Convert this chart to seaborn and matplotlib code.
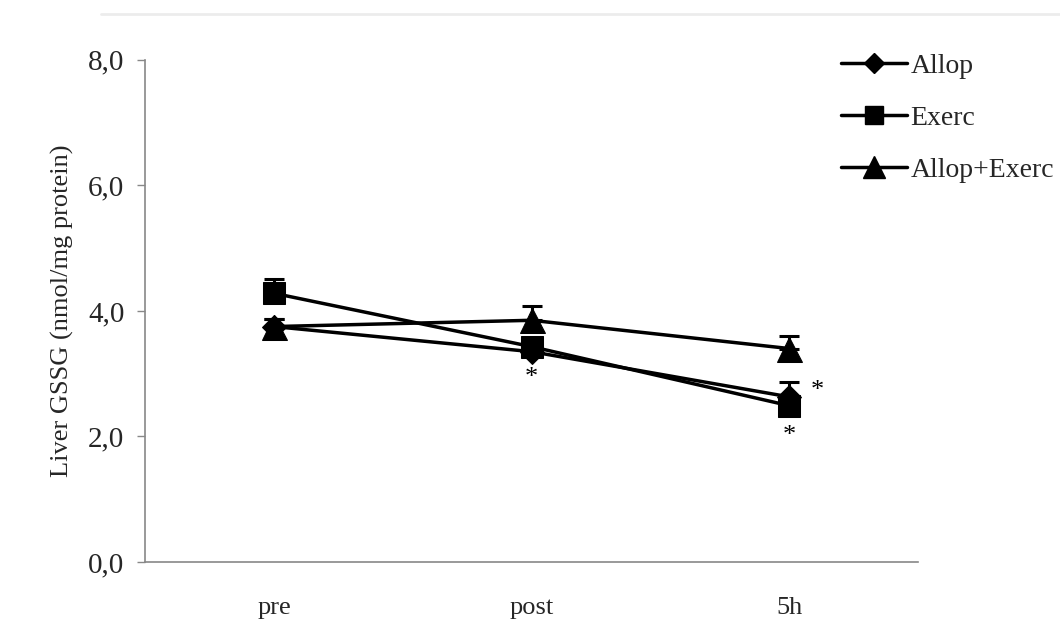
import pandas as pd
import matplotlib
matplotlib.use("Agg")
import matplotlib.pyplot as plt
from matplotlib.lines import Line2D
import seaborn as sns

# -----------------------------
# DATA
# -----------------------------
times = ["pre", "post", "5h"]
groups = ["Allop", "Exerc", "Allop+Exerc"]

allop = [3.75, 3.35, 2.63]
exerc = [4.28, 3.43, 2.49]
allop_exerc = [3.75, 3.85, 3.40]

allop_err = [0.12, 0.12, 0.24]
exerc_err = [0.23, 0.12, 0.10]
allop_exerc_err = [0.12, 0.23, 0.20]

yticks = [0, 2, 4, 6, 8]
ytick_labels = ["0,0", "2,0", "4,0", "6,0", "8,0"]

# significance marks
star_x = [1.0, 2.11, 2.0]
star_y = [2.93, 2.72, 2.0]

df = pd.DataFrame({
    "time": times * 3,
    "value": allop + exerc + allop_exerc,
    "err": allop_err + exerc_err + allop_exerc_err,
    "group": [g for g in groups for _ in times],
})

# -----------------------------
# STYLE
# -----------------------------
sns.set_theme(style="white")
plt.rcParams["font.family"] = ["Liberation Serif", "DejaVu Serif"]

markers = {"Allop": "D", "Exerc": "s", "Allop+Exerc": "^"}
msizes = {"Allop": 12, "Exerc": 16, "Allop+Exerc": 18}

fig = plt.figure(figsize=(10.6, 6.23), dpi=100)
ax = fig.add_axes([0.137, 0.098, 0.729, 0.806])

# -----------------------------
# PLOT
# -----------------------------
handles = []
for g in groups:
    sub = df[df["group"] == g]
    ax.errorbar(sub["time"], sub["value"], yerr=[[0] * len(sub), sub["err"]],
                fmt="none", ecolor="black", elinewidth=2.2, capsize=7,
                capthick=2.2, zorder=2)
    sns.lineplot(data=sub, x="time", y="value", ax=ax, color="black",
                 linewidth=2.5, marker=markers[g], markersize=msizes[g],
                 markeredgecolor="black", markerfacecolor="black",
                 sort=False, legend=False, zorder=3)
    handles.append(Line2D([0], [0], color="black", linewidth=2.5,
                          marker=markers[g], markersize=msizes[g] * 0.85,
                          markerfacecolor="black", markeredgecolor="black"))

for sx, sy in zip(star_x, star_y):
    ax.text(sx, sy, "*", ha="center", va="center", fontsize=19,
            color="black")

ax.set_xlim(-0.5, 2.5)
ax.set_ylim(0, 8)
ax.set_yticks(yticks)
ax.set_yticklabels(ytick_labels, fontsize=21)
ax.tick_params(axis="y", which="both", left=True, length=6, width=1,
               color="#888888", pad=9)
ax.tick_params(axis="x", length=0, pad=25, labelsize=19)
ax.set_xlabel("")
ax.set_ylabel("Liver GSSG (nmol/mg protein)", fontsize=19, labelpad=10)

for side in ["top", "right"]:
    ax.spines[side].set_visible(False)
for side in ["left", "bottom"]:
    ax.spines[side].set_color("#888888")
    ax.spines[side].set_linewidth(1.2)

fig.legend(handles, groups, loc="upper left", bbox_to_anchor=(0.793, 0.914),
           frameon=False, fontsize=20, handlelength=2.4, handletextpad=0.12,
           labelspacing=0.95, borderpad=0, borderaxespad=0)

# faint scanning line at the top
fig.add_artist(Line2D([0.095, 1.0], [0.978, 0.978], color="#ececec",
                      linewidth=2, transform=fig.transFigure))

fig.savefig("out.png", dpi=100, facecolor="white")
